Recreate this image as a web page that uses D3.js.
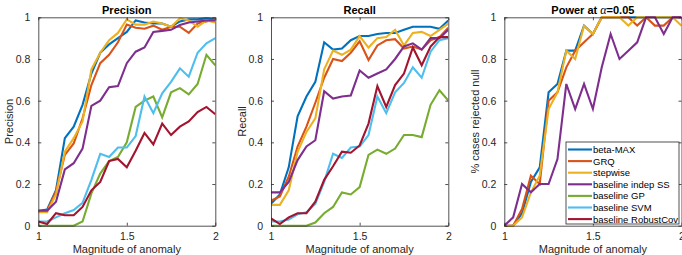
<!DOCTYPE html>
<html><head><meta charset="utf-8">
<script src="https://cdn.jsdelivr.net/npm/d3@7"></script>
<style>body{margin:0;background:#fff}svg{display:block}</style>
</head><body><div id="chart"></div>
<script>
const magnitudes = [1.0,1.05,1.1,1.15,1.2,1.25,1.3,1.35,1.4,1.45,1.5,1.55,1.6,1.65,1.7,1.75,1.8,1.85,1.9,1.95,2.0];
const seriesNames = ["beta-MAX","GRQ","stepwise","baseline indep SS","baseline GP","baseline SVM","baseline RobustCov"];
const seriesColors = ["#0072BD","#D95319","#EDB120","#7E2F8E","#77AC30","#4DBEEE","#A2142F"];
const yTicks = [0,0.2,0.4,0.6,0.8,1];
const xTicks = [1,1.5,2];

const precisionBetaMax = [0.072,0.078,0.17,0.42,0.475,0.58,0.73,0.83,0.87,0.9,0.93,0.985,0.975,0.97,0.97,0.955,0.98,0.99,0.99,0.995,0.99];
const precisionGRQ = [0.067,0.072,0.165,0.34,0.395,0.515,0.675,0.78,0.82,0.88,0.965,0.95,0.945,0.96,0.94,0.955,0.955,0.925,0.97,0.98,0.99];
const precisionStepwise = [0.065,0.065,0.15,0.355,0.42,0.5,0.75,0.83,0.89,0.925,0.99,0.965,0.965,0.98,0.97,0.955,0.995,0.985,0.955,0.985,0.975];
const precisionIndepSS = [0.072,0.072,0.115,0.27,0.3,0.37,0.575,0.6,0.665,0.67,0.78,0.835,0.855,0.93,0.935,0.94,0.963,0.975,0.98,0.985,0.985];
const precisionGP = [0,0,0,0,0,0.02,0.155,0.25,0.31,0.33,0.4,0.57,0.6,0.62,0.52,0.64,0.66,0.63,0.68,0.82,0.77];
const precisionSVM = [0.02,0.02,0.04,0.06,0.075,0.11,0.22,0.345,0.33,0.375,0.375,0.43,0.62,0.54,0.635,0.69,0.755,0.715,0.83,0.875,0.9];
const precisionRobustCov = [0.02,0.008,0.06,0.05,0.05,0.09,0.17,0.21,0.31,0.32,0.28,0.36,0.445,0.39,0.49,0.435,0.475,0.5,0.545,0.57,0.535];

const recallBetaMax = [0.105,0.15,0.28,0.525,0.62,0.69,0.88,0.845,0.85,0.89,0.91,0.91,0.92,0.925,0.925,0.94,0.955,0.955,0.955,0.945,0.985];
const recallGRQ = [0.12,0.14,0.235,0.38,0.475,0.59,0.71,0.8,0.79,0.83,0.885,0.795,0.865,0.89,0.895,0.85,0.86,0.845,0.89,0.905,0.95];
const recallStepwise = [0.1,0.1,0.17,0.355,0.45,0.515,0.75,0.84,0.82,0.845,0.91,0.855,0.9,0.905,0.94,0.865,0.925,0.93,0.91,0.94,0.97];
const recallIndepSS = [0.16,0.16,0.21,0.315,0.38,0.41,0.645,0.61,0.62,0.625,0.745,0.71,0.73,0.75,0.8,0.86,0.875,0.845,0.9,0.9,0.94];
const recallGP = [0,0,0,0,0,0.015,0.06,0.09,0.16,0.15,0.185,0.34,0.365,0.345,0.37,0.435,0.435,0.425,0.58,0.65,0.6];
const recallSVM = [0.02,0.02,0.03,0.055,0.065,0.105,0.21,0.345,0.325,0.375,0.38,0.435,0.62,0.54,0.64,0.685,0.76,0.71,0.835,0.89,0.9];
const recallRobustCov = [0.035,0.008,0.04,0.06,0.06,0.115,0.22,0.285,0.355,0.35,0.385,0.49,0.67,0.57,0.675,0.73,0.855,0.77,0.86,0.905,0.905];

const powerBetaMax = [0,0,0.06,0.21,0.28,0.64,0.68,0.84,0.84,0.96,0.92,1,1,1,1,1,1,1,1,1,1];
const powerGRQ = [0,0,0.08,0.24,0.2,0.6,0.64,0.76,0.84,0.88,0.92,1,1,1,1,0.96,1,0.96,0.96,1,1];
const powerStepwise = [0,0,0.04,0.16,0.24,0.56,0.64,0.84,0.8,0.96,0.92,1,1,1,0.96,1,1,1,1,1,0.96];
const powerIndepSS = [0,0.04,0.2,0.16,0.2,0.2,0.32,0.68,0.56,0.68,0.56,0.76,0.92,0.8,0.84,0.88,1,1,0.92,1,1];

const panels = [
  {title:"Precision", ylabel:"Precision", x0:38.3, x1:215.3, series:[precisionBetaMax,precisionGRQ,precisionStepwise,precisionIndepSS,precisionGP,precisionSVM,precisionRobustCov]},
  {title:"Recall", ylabel:"Recall", x0:271, x1:448.3, series:[recallBetaMax,recallGRQ,recallStepwise,recallIndepSS,recallGP,recallSVM,recallRobustCov]},
  {title:"Power", ylabel:"% cases rejected null", x0:504.3, x1:681.5, series:[powerBetaMax,powerGRQ,powerStepwise,powerIndepSS], legend:true}
];

const W=682,H=255, yTop=17.3, yBottom=225.7;
const axisColor="#262626";
const font="Liberation Sans, Arial, Helvetica, sans-serif";
const svg=d3.select("#chart").append("svg").attr("width",W).attr("height",H);

panels.forEach((p,pi)=>{
  const x=d3.scaleLinear().domain([1,2]).range([p.x0,p.x1]);
  const y=d3.scaleLinear().domain([0,1]).range([yBottom,yTop]);
  const g=svg.append("g");
  const clipId="clip"+pi;
  svg.append("clipPath").attr("id",clipId).append("rect").attr("x",p.x0).attr("y",yTop-2).attr("width",p.x1-p.x0).attr("height",yBottom-yTop+4);
  const line=d3.line().x((d,i)=>x(magnitudes[i])).y(d=>y(d));
  const lg=g.append("g").attr("clip-path",`url(#${clipId})`);
  p.series.forEach((s,si)=>{
    lg.append("path").datum(s).attr("d",line).attr("fill","none")
      .attr("stroke",seriesColors[si]).attr("stroke-width",2.1).attr("stroke-linejoin","miter");
  });
  const tl=3;
  const ax=[
    [d3.axisLeft(y).tickValues(yTicks).tickFormat(d3.format("")), p.x0, null],
    [d3.axisRight(y).tickValues(yTicks).tickFormat(""), p.x1, null],
    [d3.axisBottom(x).tickValues(xTicks).tickFormat(d3.format("")), null, yBottom],
    [d3.axisTop(x).tickValues(xTicks).tickFormat(""), null, yTop]
  ];
  ax.forEach(([a,tx,ty],k)=>{
    const ag=g.append("g").attr("transform",`translate(${tx===null?0:tx},${ty===null?0:ty})`);
    a.tickSizeInner(-tl).tickSizeOuter(0).tickPadding(k===0?5+tl:4+tl);
    ag.call(a);
    ag.select(".domain").attr("stroke",axisColor).attr("stroke-width",0.8);
    ag.selectAll(".tick line").attr("stroke",axisColor).attr("stroke-width",0.8);
    ag.selectAll(".tick text").attr("fill",axisColor).attr("font-size",10.5).attr("font-family",font);
  });
  const cx=(p.x0+p.x1)/2;
  const t=g.append("text").attr("x",cx).attr("y",13.5).attr("text-anchor","middle")
    .attr("font-family",font).attr("font-size",11).attr("font-weight","bold").attr("fill","#000");
  if(p.legend){
    t.append("tspan").text("Power at ");
    t.append("tspan").text("\u03B1").attr("font-family","Liberation Serif, DejaVu Serif, serif").attr("font-style","italic").attr("font-weight","normal").attr("font-size",12);
    t.append("tspan").text("=0.05");
  } else t.text(p.title);
  g.append("text").attr("x",cx).attr("y",253.3).attr("text-anchor","middle")
    .attr("font-family",font).attr("font-size",11).attr("fill",axisColor).text("Magnitude of anomaly");
  const ylx = p.x0-25;
  g.append("text").attr("transform",`translate(${ylx},${(yTop+yBottom)/2}) rotate(-90)`)
    .attr("text-anchor","middle").attr("font-family",font).attr("font-size",11).attr("fill",axisColor).text(p.ylabel);

  if(p.legend){
    const lx=566, ly=142, lw=113, lh=82;
    const leg=g.append("g");
    leg.append("rect").attr("x",lx).attr("y",ly).attr("width",lw).attr("height",lh)
      .attr("fill","#fff").attr("stroke",axisColor).attr("stroke-width",0.8);
    seriesNames.forEach((n,i)=>{
      const yy=ly+7.5+i*11.6;
      leg.append("line").attr("x1",lx+2).attr("x2",lx+26).attr("y1",yy).attr("y2",yy)
        .attr("stroke",seriesColors[i]).attr("stroke-width",2.1);
      leg.append("text").attr("x",lx+27).attr("y",yy+3.4).attr("font-family",font)
        .attr("font-size",9.5).attr("fill","#000").text(n);
    });
  }
});
</script></body></html>
